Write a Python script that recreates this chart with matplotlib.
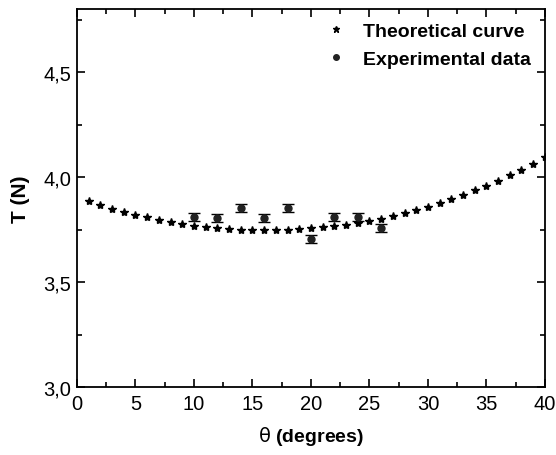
import matplotlib.pyplot as plt
from matplotlib.ticker import MultipleLocator, FuncFormatter
from matplotlib.lines import Line2D

plt.rcParams['font.family'] = ['Liberation Sans', 'DejaVu Sans']

# Theoretical curve, theta = 1..40 degrees
theta_theory = list(range(1, 41))
T_theory = [3.884, 3.867, 3.849, 3.835, 3.821, 3.808, 3.795, 3.786, 3.776, 3.768,
            3.763, 3.757, 3.751, 3.749, 3.749, 3.749, 3.749, 3.749, 3.751, 3.756,
            3.760, 3.767, 3.773, 3.781, 3.790, 3.801, 3.814, 3.827, 3.841, 3.859,
            3.876, 3.894, 3.916, 3.937, 3.959, 3.981, 4.010, 4.035, 4.062, 4.094]

# Experimental points
theta_exp = [10, 12, 14, 16, 18, 20, 22, 24, 26]
T_exp = [3.808, 3.806, 3.852, 3.805, 3.852, 3.705, 3.808, 3.808, 3.757]
T_err = [0.019, 0.019, 0.019, 0.019, 0.019, 0.019, 0.019, 0.019, 0.019]

fig = plt.figure(figsize=(5.56, 4.56), dpi=100)
ax = fig.add_axes([0.1385, 0.149, 0.8415, 0.829])

ax.plot(theta_theory, T_theory, linestyle='none', marker='*', markersize=6,
        color='black')
ax.errorbar(theta_exp, T_exp, yerr=T_err, fmt='o', markersize=5, color='#222222',
            ecolor='black', elinewidth=1, capsize=4, capthick=1)

ax.set_xlim(0, 40)
ax.set_ylim(3.0, 4.8)
ax.xaxis.set_major_locator(MultipleLocator(5))
ax.xaxis.set_minor_locator(MultipleLocator(2.5))
ax.yaxis.set_major_locator(MultipleLocator(0.5))
ax.yaxis.set_minor_locator(MultipleLocator(0.25))
ax.yaxis.set_major_formatter(FuncFormatter(lambda v, p: f"{v:.1f}".replace('.', ',')))
ax.tick_params(which='both', direction='in', top=True, right=True, width=1.2)
ax.tick_params(which='major', length=6, labelsize=14.5)
ax.tick_params(axis='x', which='major', pad=5)
ax.tick_params(axis='y', which='major', pad=4)
ax.tick_params(which='minor', length=3.5)
for s in ax.spines.values():
    s.set_linewidth(1.3)

ax.set_xlabel(r"$\mathrm{\theta}$ (degrees)", fontsize=14, fontweight='bold', labelpad=8)
ax.set_ylabel("T (N)", fontsize=15, fontweight='bold', labelpad=10)

handles = [
    Line2D([], [], linestyle='none', marker='*', markersize=5, color='black'),
    Line2D([], [], linestyle='none', marker='o', markersize=4, color='#222222'),
]
ax.legend(handles, ['Theoretical curve', 'Experimental data'], loc='upper right',
          frameon=False, handlelength=1.0, handletextpad=0.9, borderaxespad=0.3,
          labelspacing=0.5, prop={'weight': 'bold', 'size': 14})

fig.savefig('out.png', dpi=100)
